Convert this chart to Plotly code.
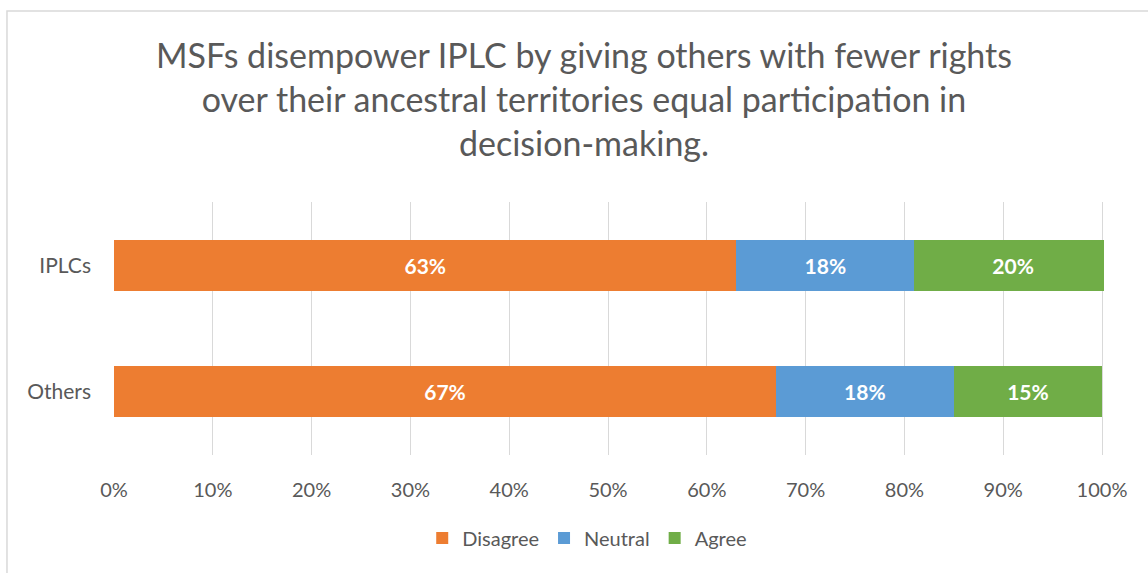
import plotly.graph_objects as go

categories = ["IPLCs", "Others"]
series_names = ["Disagree", "Neutral", "Agree"]
disagree = [63, 67]
neutral = [18, 18]
agree = [20, 15]
colors = ["#ED7D31", "#5B9BD5", "#70AD47"]
tick_vals = [0, 10, 20, 30, 40, 50, 60, 70, 80, 90, 100]
tick_text = [f"{v}%" for v in tick_vals]
title_text = ("MSFs disempower IPLC by giving others with fewer rights<br>"
              "over their ancestral territories equal participation in<br>"
              "decision-making.")

FONT = "Lato, 'Open Sans', sans-serif"
fig = go.Figure()
for name, vals, col in zip(series_names, [disagree, neutral, agree], colors):
    fig.add_trace(go.Bar(
        y=categories, x=vals, name=name, orientation="h",
        marker=dict(color=col, line=dict(width=0)),
        width=0.4,
        text=[f"{v}%" for v in vals], textposition="inside",
        insidetextanchor="middle",
        textfont=dict(color="white", size=21, family=FONT, weight="bold"),
    ))

fig.update_layout(
    barmode="stack",
    width=1148, height=573,
    margin=dict(l=114, r=44, t=202, b=118),
    paper_bgcolor="white", plot_bgcolor="white",
    font=dict(family=FONT, color="#595959"),
    showlegend=True,
    legend=dict(orientation="h", x=0.478, xanchor="center", y=-0.328, yanchor="middle",
                font=dict(size=20, color="#595959", family=FONT), traceorder="normal",
                itemwidth=30),
    annotations=[dict(text=title_text, xref="paper", yref="paper",
                      x=0.4747, y=1.41, xanchor="center", yanchor="middle",
                      showarrow=False, align="center",
                      font=dict(size=34, color="#595959", family=FONT))],
    shapes=[dict(type="rect", xref="paper", yref="paper",
                 x0=-0.1081, y0=-0.7, x1=1.2, y1=1.755,
                 line=dict(color="#d9d9d9", width=1.5), layer="below")],
)
fig.update_xaxes(range=[0, 100.2], tickvals=tick_vals, ticktext=tick_text,
                 showgrid=True, gridcolor="#d9d9d9", gridwidth=1.2,
                 zeroline=False, showline=False, ticks="",
                 tickfont=dict(size=20, color="#595959", family=FONT),
                 ticklabelstandoff=21)
fig.update_yaxes(categoryorder="array", categoryarray=categories, autorange="reversed",
                 showgrid=False, zeroline=False, showline=False, ticks="",
                 tickfont=dict(size=21, color="#595959", family=FONT),
                 ticklabelstandoff=22)

fig.write_html("out.html")
